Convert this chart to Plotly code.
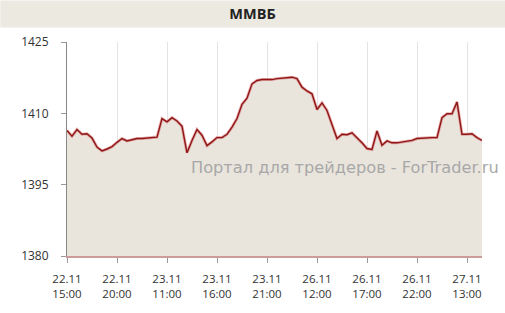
import plotly.graph_objects as go

# ---- data ----
values = [
    1406.4, 1405.2, 1406.6, 1405.6, 1405.7, 1404.8, 1402.9, 1402.1, 1402.5, 1403.0,
    1403.9, 1404.7, 1404.2, 1404.5, 1404.7, 1404.7, 1404.8, 1405.0, 1405.0, 1408.9,
    1408.2, 1409.1, 1408.4, 1407.3, 1401.7, 1404.3, 1406.6, 1405.4, 1403.2, 1404.0,
    1404.9, 1404.9, 1405.6, 1407.1, 1408.9, 1411.9, 1413.2, 1416.2, 1416.9, 1417.1,
    1417.1, 1417.1, 1417.3, 1417.4, 1417.6, 1417.6, 1417.3, 1415.5, 1414.7, 1414.1,
    1410.8, 1412.2, 1410.6, 1407.8, 1404.7, 1405.6, 1405.5, 1405.9, 1404.9, 1403.8,
    1402.6, 1402.4, 1406.3, 1403.3, 1404.2, 1403.8, 1403.8, 1404.0, 1404.2, 1404.3,
    1404.7, 1404.8, 1404.9, 1404.9, 1404.9, 1409.1, 1409.9, 1409.9, 1412.4, 1405.6,
    1405.6, 1405.7, 1404.9, 1404.3,
]
x_idx = list(range(len(values)))
tick_pos = [0, 10, 20, 30, 40, 50, 60, 70, 80]
tick_labels = ["22.11<br>15:00", "22.11<br>20:00", "23.11<br>11:00", "23.11<br>16:00",
               "23.11<br>21:00", "26.11<br>12:00", "26.11<br>17:00", "26.11<br>22:00",
               "27.11<br>13:00"]
y_ticks = [1380, 1395, 1410, 1425]
title_text = "ММВБ"
watermark = "Портал для трейдеров - ForTrader.ru"

W, H = 505, 313
ml, mr, mt, mb = 66.7, 23.3, 41.5, 57
pw, ph = W - ml - mr, H - mt - mb

fig = go.Figure()
fig.add_trace(go.Scatter(
    x=x_idx, y=values, mode="lines", fill="tozeroy",
    fillcolor="#e9e5dd", line=dict(color="rgba(215,110,110,0.55)", width=3),
    hoverinfo="skip", showlegend=False))
fig.add_trace(go.Scatter(
    x=x_idx, y=values, mode="lines",
    line=dict(color="#8e1616", width=1.4), showlegend=False))

# title band
fig.add_shape(type="rect", xref="paper", yref="paper",
              x0=-ml / pw, x1=(W - ml) / pw,
              y0=(H - mb - 27) / ph, y1=(H - mb) / ph,
              fillcolor="#ece9e1", line=dict(width=0), layer="below")

fig.add_annotation(text=watermark, xref="paper", yref="paper",
                   x=(189 - ml) / pw, y=(H - mb - 167) / ph,
                   xanchor="left", yanchor="middle", showarrow=False,
                   font=dict(family="DejaVu Sans", size=16.2, color="#a8a8a8"))

fig.update_layout(
    width=W, height=H,
    margin=dict(l=ml, r=mr, t=mt, b=mb, pad=0),
    paper_bgcolor="white", plot_bgcolor="white",
    title=dict(text=title_text, x=0.5, xanchor="center", xref="container",
               y=1 - 14 / H, yanchor="middle", yref="container",
               font=dict(family="Open Sans", size=14.5, color="#222", weight="bold")),
    xaxis=dict(range=[0, len(values) - 1], tickvals=tick_pos, ticktext=tick_labels,
               showgrid=True, gridcolor="#e4e4e4", gridwidth=1,
               showline=True, linecolor="#cf9a9a", linewidth=1.5,
               ticks="outside", ticklen=5, tickcolor="#999",
               tickfont=dict(family="Open Sans", size=11.5, color="#333"),
               zeroline=False, fixedrange=True, ticklabelstandoff=6),
    yaxis=dict(range=[1380, 1425], tickvals=y_ticks,
               showgrid=False, showline=True, linecolor="#888", linewidth=1,
               ticks="outside", ticklen=5, tickcolor="#999",
               tickfont=dict(family="Open Sans", size=12, color="#333"),
               zeroline=False, ticklabelstandoff=10),
)

fig.write_html("out.html")
